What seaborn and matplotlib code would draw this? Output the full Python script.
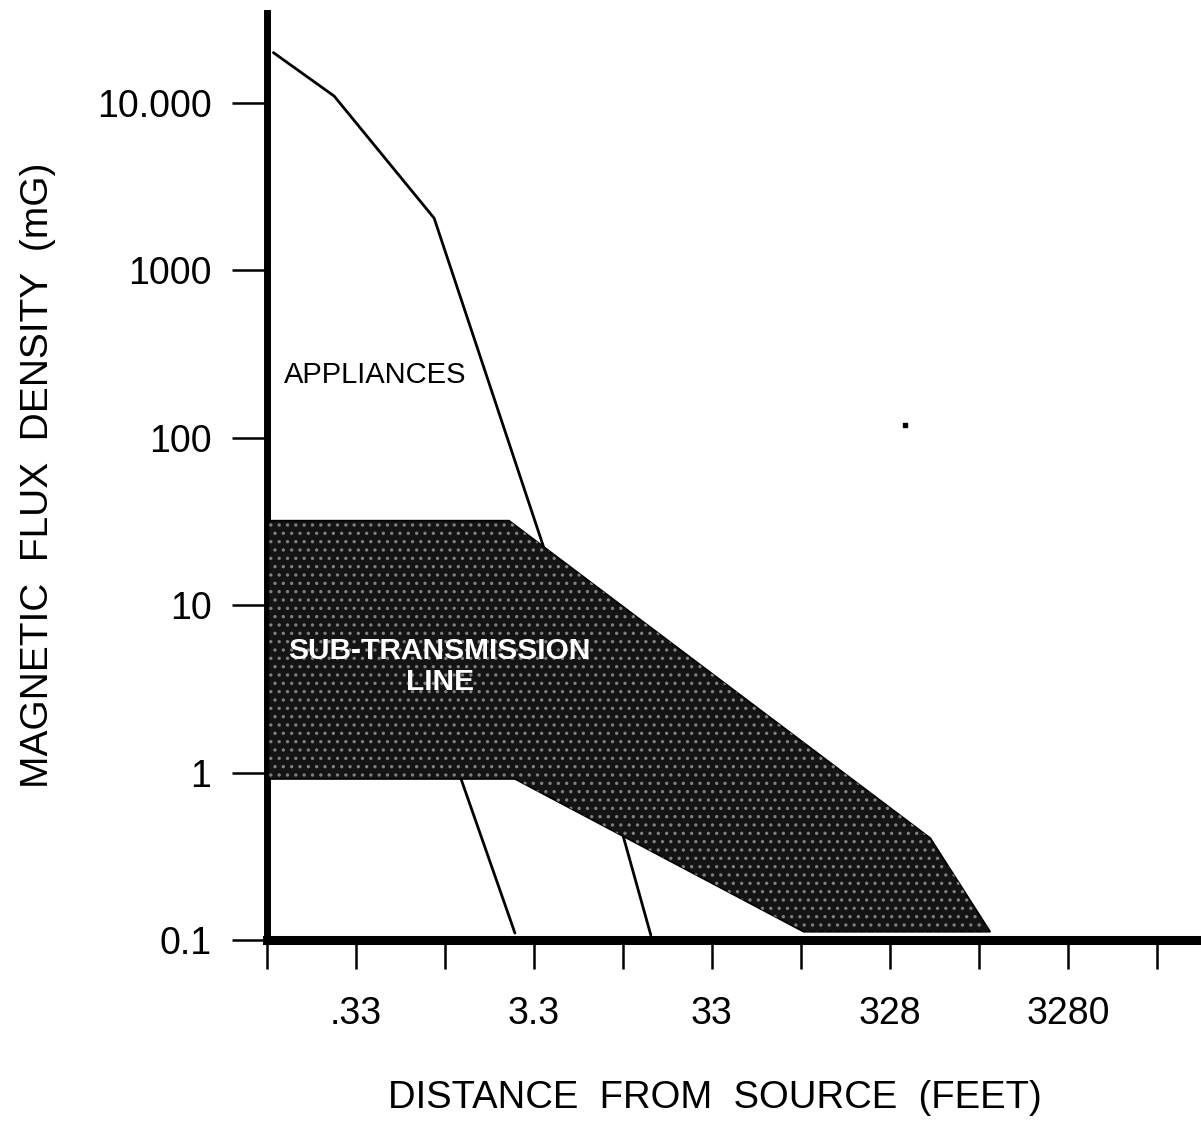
import numpy as np
import pandas as pd
import matplotlib
matplotlib.use("Agg")
import matplotlib.pyplot as plt
import seaborn as sns

sns.set_theme(style="white")
plt.rcParams["font.family"] = ["Liberation Sans", "DejaVu Sans"]
plt.rcParams["hatch.linewidth"] = 1.2

# ── data (distance in feet, flux density in mG) ──────────────
app_upper_ft = [0.113, 0.248, 0.904, 3.69, 10.5, 14.9]
app_upper_mg = [20000, 11000, 2050, 22.9, 0.406, 0.107]

app_lower_ft = [1.20, 1.28, 2.57]
app_lower_mg = [1.25, 0.916, 0.110]

band_ft = [0.106, 2.38, 554, 1202, 107.5, 2.57, 0.106]
band_mg = [32, 32, 0.406, 0.112, 0.112, 0.916, 0.916]

speck_ft = [401]
speck_mg = [119]

x_ticks = [0.104, 0.328, 1.04, 3.28, 10.4, 32.8, 104, 328, 1040, 3280, 10400]
x_labels = ["", ".33", "", "3.3", "", "33", "", "328", "", "3280", ""]
y_ticks = [0.1, 1, 10, 100, 1000, 10000]
y_labels = ["0.1", "1", "10", "100", "1000", "10.000"]

# ── figure ───────────────────────────────────────────────────
fig = plt.figure(figsize=(12.01, 11.29), dpi=100)
ax = fig.add_axes([0.2223, 0.1674, 0.7777, 0.8211])
ax.set_xscale("log")
ax.set_yscale("log")

upper = pd.DataFrame({"ft": app_upper_ft, "mg": app_upper_mg})
lower = pd.DataFrame({"ft": app_lower_ft, "mg": app_lower_mg})
sns.lineplot(data=upper, x="ft", y="mg", sort=False, color="black",
             lw=2.0, ax=ax, zorder=2)
sns.lineplot(data=lower, x="ft", y="mg", sort=False, color="black",
             lw=2.0, ax=ax, zorder=2)

# sub-transmission band (dark stipple)
ax.fill(band_ft, band_mg, facecolor="#141414", edgecolor="black",
        lw=1.2, zorder=3)
ax.fill(band_ft, band_mg, facecolor="none", edgecolor="#808080",
        hatch="..", lw=0, zorder=3.5)

ax.scatter(speck_ft, speck_mg, s=6, marker="s", color="black", zorder=4)

ax.text(0.129, 237, "APPLIANCES", fontsize=21, ha="left", va="center",
        color="black", zorder=5)
ax.text(0.97, 4.3, "SUB-TRANSMISSION\nLINE", fontsize=21.5,
        fontweight="bold", ha="center", va="center", color="white",
        linespacing=1.1, multialignment="center", zorder=5)

ax.set_xlim(0.106, 18360)
ax.set_ylim(0.1, 34500)

ax.set_xticks(x_ticks)
ax.set_xticklabels(x_labels)
ax.set_yticks(y_ticks)
ax.set_yticklabels(y_labels)
ax.minorticks_off()

ax.tick_params(axis="x", which="major", direction="out", length=21,
               width=1.8, pad=19, labelsize=27, colors="black", bottom=True)
ax.tick_params(axis="y", which="major", direction="out", length=25,
               width=1.8, pad=15, labelsize=27, colors="black", left=True)

for side in ["top", "right"]:
    ax.spines[side].set_visible(False)
ax.spines["left"].set_linewidth(5)
ax.spines["bottom"].set_linewidth(6.5)
ax.spines["left"].set_color("black")
ax.spines["bottom"].set_color("black")
ax.grid(False)

ax.set_xlabel("DISTANCE  FROM  SOURCE  (FEET)", fontsize=27.5, color="black")
ax.xaxis.set_label_coords(0.4797, -0.170)
ax.xaxis.label.set_va("center")
ax.set_ylabel("MAGNETIC  FLUX  DENSITY  (mG)", fontsize=28, color="black")
ax.yaxis.set_label_coords(-0.245, 0.5016)
ax.yaxis.label.set_va("center")

fig.savefig("out.png", dpi=100)
plt.close(fig)
